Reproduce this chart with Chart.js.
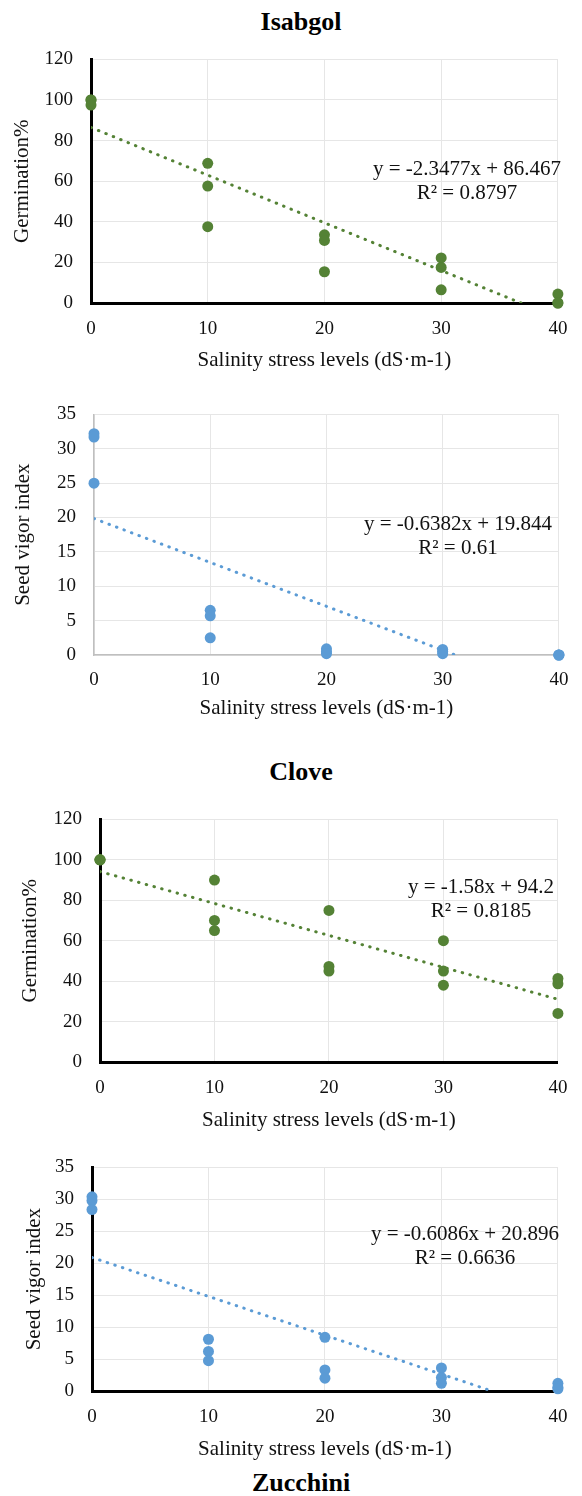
<!DOCTYPE html>
<html>
<head>
<meta charset="utf-8">
<script src="https://cdn.jsdelivr.net/npm/chart.js@4.4.1/dist/chart.umd.min.js"></script>
<style>
  body { margin: 0; background: #fff; }
  #page { position: relative; width: 582px; height: 1496px; font-family: "Liberation Serif", "Times New Roman", serif; color: #000; }
  .panel { position: absolute; left: 0; width: 582px; }
  .ttl { position: absolute; left: 0; width: 602px; text-align: center; font-weight: bold; font-size: 26px; line-height: 28px; }
  .eq { position: absolute; font-size: 21px; line-height: 24px; text-align: center; white-space: nowrap; transform: translateX(-50%); color: #111; }
</style>
</head>
<body>
<div id="page">
  <div class="ttl" style="top:8px">Isabgol</div>
  <div class="ttl" style="top:758px">Clove</div>
  <div class="ttl" style="top:1469px">Zucchini</div>
</div>
<script>
/* ---- data ---- */
const salinityLevels     = [0, 0, 0, 10, 10, 10, 20, 20, 20, 30, 30, 30, 40, 40, 40];
const isabgolGermination = [100, 100, 97.5, 68.8, 57.6, 37.6, 33.6, 30.8, 15.4, 22.2, 17.5, 6.5, 4.4, 0, 0];
const isabgolVigor       = [32.2, 31.7, 25, 6.5, 5.7, 2.5, 0.9, 0.5, 0.2, 0.8, 0.5, 0.2, 0, 0, 0];
const cloveGermination   = [100, 100, 100, 90, 70, 65, 75, 47.3, 45, 60, 45, 38, 41.3, 38.7, 24];
const cloveVigor         = [30.4, 29.8, 28.4, 8.1, 6.2, 4.75, 8.4, 3.3, 2.0, 3.6, 2.1, 1.2, 1.2, 0.6, 0.35];

// linear trendlines as printed on the figure
const trendSlopes     = [-2.3477, -0.6382, -1.58, -0.6086];
const trendIntercepts = [86.467, 19.844, 94.2, 20.896];
const rSquared        = ['0.8797', '0.61', '0.8185', '0.6636'];

const xTicks   = [0, 10, 20, 30, 40];
const yMaxes   = [120, 35, 120, 35];
const ySteps   = [20, 5, 20, 5];
const yTitles  = ['Germination%', 'Seed vigor index', 'Germination%', 'Seed vigor index'];
const xTitle   = 'Salinity stress levels (dS\u00b7m-1)';
const seriesList = [isabgolGermination, isabgolVigor, cloveGermination, cloveVigor];

const GREEN = '#548235', BLUE = '#5b9bd5';
const FONT = '"Liberation Serif", "Times New Roman", serif';

// panel geometry (page pixels)
const panels = [
  { canvasTop: 30,   height: 350, left: 91,  top: 57,   bottom: 303,  xTickY: 329,  xTitleY: 360,  yTitleX: 22, color: GREEN, axis: '#000', axisW: 3,   eqX: 467, eqTop: 156 },
  { canvasTop: 385,  height: 345, left: 94,  top: 410,  bottom: 655,  xTickY: 680,  xTitleY: 708,  yTitleX: 23, color: BLUE,  axis: '#bfbfbf', axisW: 1.5, eqX: 458, eqTop: 511 },
  { canvasTop: 790,  height: 345, left: 100, top: 807,  bottom: 1062, xTickY: 1088, xTitleY: 1120, yTitleX: 30, color: GREEN, axis: '#000', axisW: 3,   eqX: 481, eqTop: 874 },
  { canvasTop: 1138, height: 330, left: 92,  top: 1155, bottom: 1391, xTickY: 1417, xTitleY: 1449, yTitleX: 34, color: BLUE,  axis: '#000', axisW: 3,   eqX: 465, eqTop: 1221 },
];
const RIGHT = 567;
const TICK_SIZE = 19, TITLE_SIZE = 21;

const page = document.getElementById('page');

panels.forEach((p, i) => {
  const wrap = document.createElement('div');
  wrap.className = 'panel';
  wrap.style.top = p.canvasTop + 'px';
  wrap.style.height = p.height + 'px';
  const cv = document.createElement('canvas');
  wrap.appendChild(cv);
  page.appendChild(wrap);

  const m = trendSlopes[i], b = trendIntercepts[i];
  const xEnd = Math.min(40, -b / m);
  const pts = salinityLevels.map((x, k) => ({ x, y: seriesList[i][k] }));

  const tickLH = TICK_SIZE * 1.2, titleLH = TITLE_SIZE * 1.2;
  const bottomLocal = p.bottom - p.canvasTop;

  new Chart(cv, {
    type: 'scatter',
    data: {
      datasets: [
        { data: [{ x: 0, y: b }, { x: xEnd, y: m * xEnd + b }], showLine: true, pointRadius: 0,
          borderColor: p.color, borderWidth: 3, borderDash: [0.5, 7.5], borderCapStyle: 'round', order: 0 },
        { data: pts, pointRadius: 5.5, backgroundColor: p.color, borderWidth: 0, clip: false, order: 1 },
      ]
    },
    options: {
      responsive: true, maintainAspectRatio: false, animation: false,
      layout: { padding: { left: 0, right: 582 - RIGHT, top: p.top - p.canvasTop, bottom: 0 } },
      plugins: { legend: { display: false }, tooltip: { enabled: false } },
      scales: {
        x: {
          type: 'linear', min: 0, max: 40,
          afterBuildTicks: s => { s.ticks = xTicks.map(v => ({ value: v })); },
          afterFit: s => { s.height = p.height - bottomLocal; },
          ticks: { color: '#111', font: { family: FONT, size: TICK_SIZE }, padding: p.xTickY - p.bottom - tickLH / 2, maxRotation: 0 },
          grid: { color: '#e6e6e6', drawTicks: false },
          border: { color: p.axis, width: p.axisW },
          title: { display: true, text: xTitle, color: '#111', font: { family: FONT, size: TITLE_SIZE },
                   padding: { top: 0, bottom: (p.canvasTop + p.height) - p.xTitleY - titleLH / 2 } }
        },
        y: {
          type: 'linear', min: 0, max: yMaxes[i],
          ticks: { stepSize: ySteps[i], color: '#111', font: { family: FONT, size: TICK_SIZE }, padding: 18 },
          afterFit: s => { s.width = p.left; },
          grid: { color: '#e6e6e6', drawTicks: false },
          border: { color: p.axis, width: p.axisW },
          title: { display: true, text: yTitles[i], color: '#111', font: { family: FONT, size: TITLE_SIZE },
                   padding: { top: p.yTitleX - titleLH / 2, bottom: 0 } }
        }
      }
    }
  });

  const eq = document.createElement('div');
  eq.className = 'eq';
  eq.style.left = p.eqX + 'px';
  eq.style.top = p.eqTop + 'px';
  eq.innerHTML = `y = ${m}x + ${b}<br>R\u00b2 = ${rSquared[i]}`;
  page.appendChild(eq);
});
</script>
</body>
</html>
